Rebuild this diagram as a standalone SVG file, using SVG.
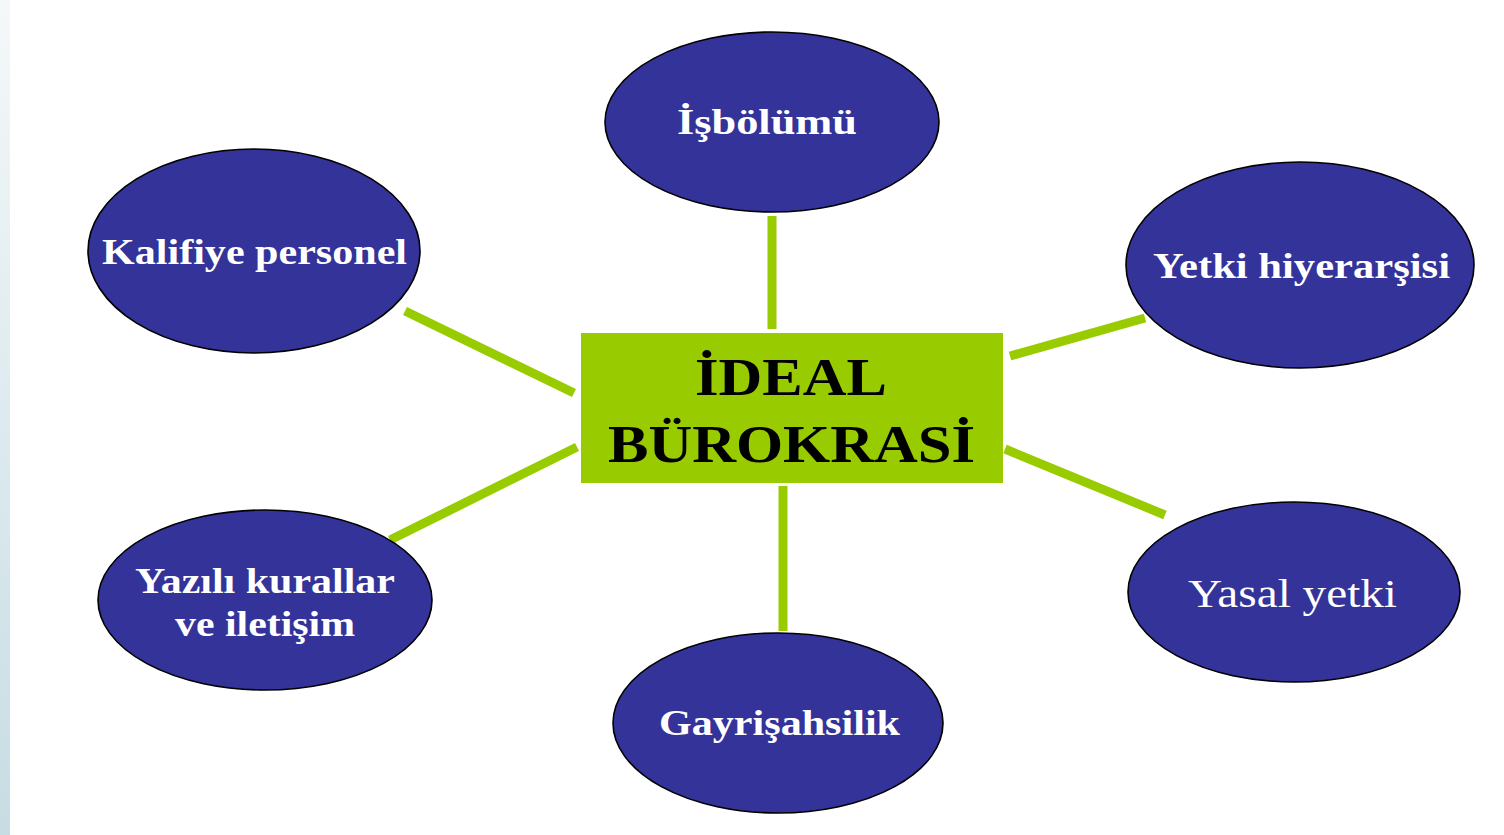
<svg xmlns="http://www.w3.org/2000/svg" width="1504" height="835" viewBox="0 0 1504 835">
  <defs>
    <linearGradient id="strip" x1="0" y1="0" x2="0" y2="1">
      <stop offset="0" stop-color="#f5f8f9"/>
      <stop offset="1" stop-color="#c6dde3"/>
    </linearGradient>
  </defs>
  <style>
    .node ellipse { fill: #333399; stroke: #000000; stroke-width: 1.6; }
    .lbl { font-family: "Liberation Serif", "Times New Roman", serif; font-weight: bold; font-size: 35px; fill: #ffffff; text-anchor: middle; }
    .lbl-reg { font-family: "Liberation Serif", "Times New Roman", serif; font-weight: normal; font-size: 40px; fill: #ffffff; text-anchor: middle; }
    .center-lbl { font-family: "Liberation Serif", "Times New Roman", serif; font-weight: bold; font-size: 53px; fill: #000000; text-anchor: middle; }
    #connectors line { stroke: #99cc00; stroke-width: 9; }
  </style>
  <rect x="0" y="0" width="1504" height="835" fill="#ffffff"/>
  <rect x="0" y="0" width="10" height="835" fill="url(#strip)"/>

  <g id="connectors">
    <line x1="772" y1="216" x2="772" y2="329"/>
    <line x1="783" y1="486" x2="783" y2="631"/>
    <line x1="405" y1="311" x2="574" y2="393"/>
    <line x1="390" y1="540" x2="577" y2="447"/>
    <line x1="1010" y1="356" x2="1145" y2="318"/>
    <line x1="1005" y1="449" x2="1165" y2="515"/>
  </g>

  <g id="center">
    <rect x="581" y="333" width="422" height="150" fill="#99cc00"/>
    <text class="center-lbl" x="791" y="395" textLength="192" lengthAdjust="spacingAndGlyphs">İDEAL</text>
    <text class="center-lbl" x="791.5" y="462" textLength="367" lengthAdjust="spacingAndGlyphs">BÜROKRASİ</text>
  </g>

  <g id="isbolumu" class="node">
    <ellipse cx="772" cy="122" rx="167" ry="90"/>
    <text class="lbl" x="767" y="134" textLength="180" lengthAdjust="spacingAndGlyphs">İşbölümü</text>
  </g>

  <g id="kalifiye" class="node">
    <ellipse cx="254" cy="251" rx="166" ry="102"/>
    <text class="lbl" x="254.5" y="264" textLength="305" lengthAdjust="spacingAndGlyphs">Kalifiye personel</text>
  </g>

  <g id="yetki" class="node">
    <ellipse cx="1300" cy="265" rx="174" ry="103"/>
    <text class="lbl" x="1301.5" y="278" textLength="297" lengthAdjust="spacingAndGlyphs">Yetki hiyerarşisi</text>
  </g>

  <g id="yasal" class="node">
    <ellipse cx="1294" cy="592" rx="166" ry="90"/>
    <text class="lbl-reg" x="1292.5" y="607" textLength="209" lengthAdjust="spacingAndGlyphs">Yasal yetki</text>
  </g>

  <g id="gayrisahsilik" class="node">
    <ellipse cx="778" cy="723" rx="165" ry="90"/>
    <text class="lbl" x="779.5" y="735" textLength="241" lengthAdjust="spacingAndGlyphs">Gayrişahsilik</text>
  </g>

  <g id="yazili" class="node">
    <ellipse cx="265" cy="600" rx="167" ry="90"/>
    <text class="lbl" x="265" y="593" textLength="260" lengthAdjust="spacingAndGlyphs">Yazılı kurallar</text>
    <text class="lbl" x="265" y="636" textLength="180" lengthAdjust="spacingAndGlyphs">ve iletişim</text>
  </g>
</svg>
